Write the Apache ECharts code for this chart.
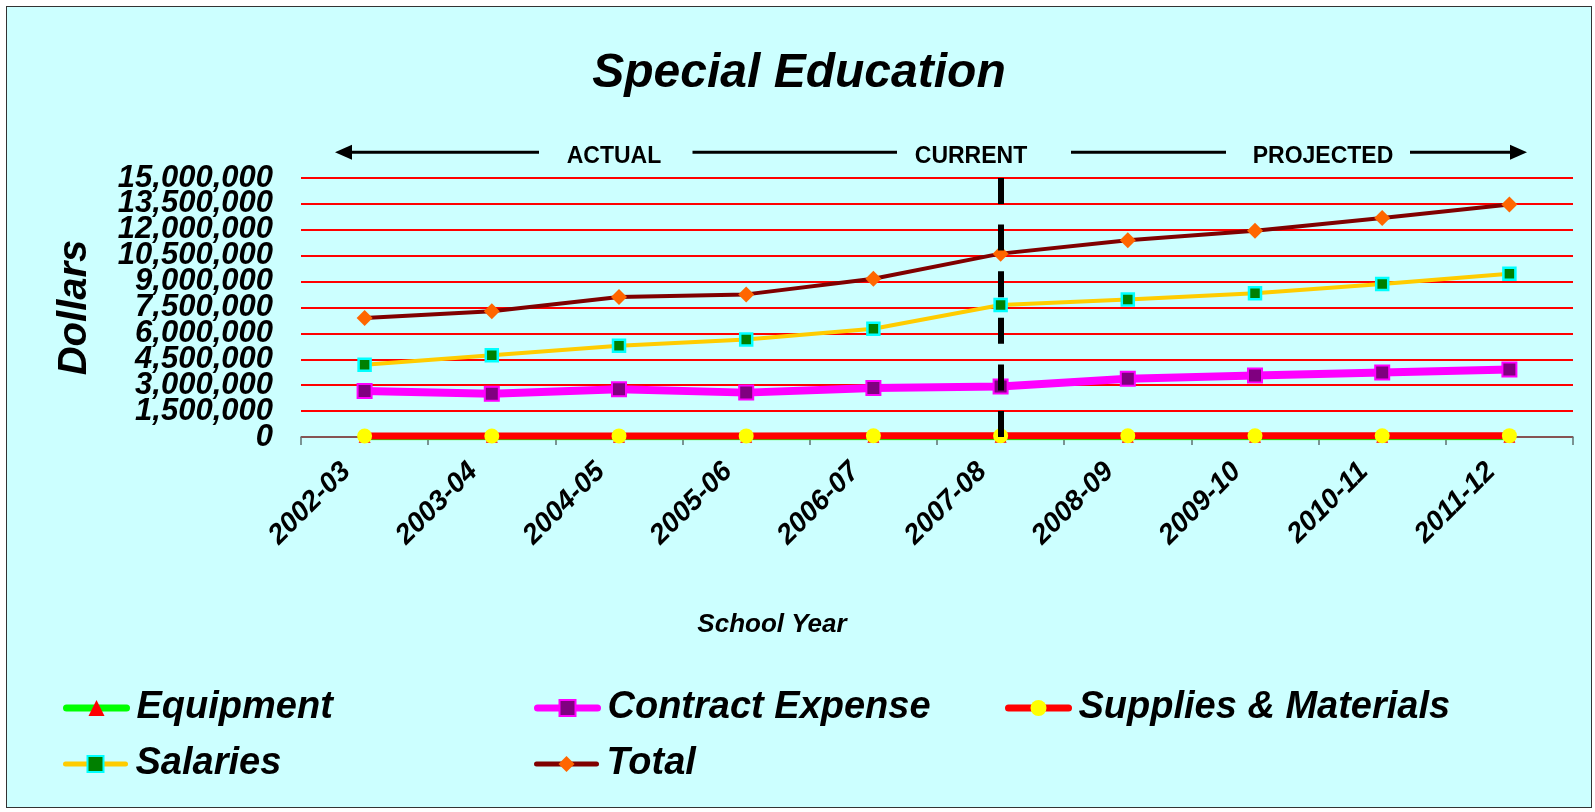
<!DOCTYPE html>
<html>
<head>
<meta charset="utf-8">
<title>Special Education</title>
<script src="https://cdn.jsdelivr.net/npm/echarts@6/dist/echarts.min.js"></script>
<style>
  html, body { margin: 0; padding: 0; background: #ffffff; }
  #chart {
    position: absolute; left: 6px; top: 6px;
    width: 1584px; height: 800px;
    border: 1px solid #333333;
  }
</style>
</head>
<body>
<div id="chart"></div>
<script>
// School years on the category axis
const categories = ['2002-03', '2003-04', '2004-05', '2005-06', '2006-07',
                    '2007-08', '2008-09', '2009-10', '2010-11', '2011-12'];

// Spending by category, in dollars
const equipment = [10000, 8000, 12000, 10000, 12000, 9000, 10000, 10000, 10000, 10000];
const contractExpense = [2660000, 2510000, 2760000, 2570000, 2840000, 2930000, 3380000, 3560000, 3740000, 3910000];
const suppliesMaterials = [60000, 60000, 65000, 65000, 70000, 70000, 72000, 74000, 76000, 78000];
const salaries = [4190000, 4730000, 5290000, 5640000, 6270000, 7640000, 7960000, 8320000, 8860000, 9460000];
const total = [6890000, 7280000, 8110000, 8260000, 9170000, 10620000, 11400000, 11940000, 12680000, 13470000];

// Value axis range and step
const yMin = 0;
const yMax = 15000000;
const yStep = 1500000;

// Year that separates actual from projected figures
const currentYear = '2007-08';

const FONT = "'Liberation Sans', Arial, Helvetica, sans-serif";
const boldItalic = { fontFamily: FONT, fontWeight: 'bold', fontStyle: 'italic', color: '#000000' };

// The tick labels are taller than the tick spacing, so they are split over two
// stacked value axes (even and odd steps) to keep every one of them visible.
const stepIndex = v => Math.round((v - yMin) / yStep);
const dollarLabel = (parity) => (v) =>
  (stepIndex(v) % 2 === parity) ? v.toLocaleString('en-US') : '';

function legendFor(name, left, top, lineWidth) {
  return {
    data: [name],
    left: left,
    top: top,
    padding: 0,
    itemWidth: 60,
    itemHeight: 20,
    selectedMode: false,
    lineStyle: { width: lineWidth, cap: 'round' },
    textStyle: Object.assign({ fontSize: 38, padding: [0, 0, 0, 5] }, boldItalic)
  };
}

// Timeline banner above the plot: arrows with ACTUAL / CURRENT / PROJECTED
const bannerY = 145.3;
const bannerLine = (x1, x2) => ({
  type: 'line',
  shape: { x1: x1, y1: bannerY, x2: x2, y2: bannerY },
  style: { stroke: '#000000', lineWidth: 3 }
});
const bannerText = (x, text) => ({
  type: 'text',
  x: x, y: bannerY + 4,
  style: {
    text: text, fontFamily: FONT, fontWeight: 'bold', fontSize: 23,
    fill: '#000000', align: 'center', verticalAlign: 'middle'
  }
});

const yLabelBase = Object.assign({ margin: 28, fontSize: 31 }, boldItalic);

const chart = echarts.init(document.getElementById('chart'), null, { renderer: 'canvas' });

chart.setOption({
  backgroundColor: '#CCFFFF',
  animation: false,
  title: {
    text: 'Special Education',
    left: 'center',
    top: 38,
    padding: 5,
    textStyle: Object.assign({ fontSize: 48 }, boldItalic)
  },
  grid: { left: 294, top: 171, width: 1272, height: 259, containLabel: false },
  xAxis: {
    type: 'category',
    data: categories,
    boundaryGap: true,
    axisLine: { show: true, lineStyle: { color: '#5f7070', width: 1.5 } },
    axisTick: { show: true, alignWithLabel: false, interval: 0, length: 8, lineStyle: { color: '#5f7070', width: 1.5 } },
    axisLabel: Object.assign({ rotate: 45, margin: 12, fontSize: 28, interval: 0, padding: [0, 26, 0, 0] }, boldItalic),
    splitLine: { show: false }
  },
  yAxis: [
    {
      type: 'value',
      min: yMin,
      max: yMax,
      interval: yStep,
      name: 'Dollars',
      nameLocation: 'middle',
      nameRotate: 90,
      nameGap: 206,
      nameTextStyle: Object.assign({ fontSize: 40 }, boldItalic),
      axisLine: { show: false },
      axisTick: { show: false },
      axisLabel: Object.assign({
        showMinLabel: true, showMaxLabel: true,
        formatter: dollarLabel(0)
      }, yLabelBase),
      splitLine: { show: true, lineStyle: { color: '#FF0000', width: 2 } }
    },
    {
      type: 'value',
      position: 'left',
      offset: 0,
      min: yMin,
      max: yMax,
      interval: yStep,
      axisLine: { show: false },
      axisTick: { show: false },
      axisLabel: Object.assign({
        showMinLabel: false, showMaxLabel: false,
        formatter: dollarLabel(1)
      }, yLabelBase),
      splitLine: { show: false }
    }
  ],
  legend: [
    legendFor('Equipment', 56, 682, 7),
    legendFor('Contract Expense', 527, 682, 7),
    legendFor('Supplies & Materials', 998, 682, 7),
    legendFor('Salaries', 56, 738, 5),
    legendFor('Total', 527, 738, 5)
  ],
  graphic: [
    { type: 'polygon', shape: { points: [[328, bannerY], [345, bannerY - 7.5], [345, bannerY + 7.5]] }, style: { fill: '#000000' } },
    bannerLine(344, 532),
    bannerText(607, 'ACTUAL'),
    bannerLine(685.5, 890),
    bannerText(964, 'CURRENT'),
    bannerLine(1064, 1219),
    bannerText(1316, 'PROJECTED'),
    bannerLine(1403, 1505),
    { type: 'polygon', shape: { points: [[1520, bannerY], [1503, bannerY - 7.5], [1503, bannerY + 7.5]] }, style: { fill: '#000000' } },
    {
      type: 'text', x: 765, y: 618,
      style: {
        text: 'School Year', fontSize: 26, fill: '#000000',
        fontFamily: FONT, fontWeight: 'bold', fontStyle: 'italic',
        align: 'center', verticalAlign: 'middle'
      }
    }
  ],
  series: [
    {
      name: 'Equipment', type: 'line', data: equipment,
      symbol: 'triangle', symbolSize: 12,
      itemStyle: { color: '#FF0000' },
      lineStyle: { color: '#00FF00', width: 7 }
    },
    {
      name: 'Contract Expense', type: 'line', data: contractExpense,
      symbol: 'rect', symbolSize: 14,
      itemStyle: { color: '#800080', borderColor: '#FF00FF', borderWidth: 2 },
      lineStyle: { color: '#FF00FF', width: 8 }
    },
    {
      name: 'Supplies & Materials', type: 'line', data: suppliesMaterials,
      symbol: 'circle', symbolSize: 15,
      itemStyle: { color: '#FFFF00', borderWidth: 0 },
      lineStyle: { color: '#FF0000', width: 7 }
    },
    {
      name: 'Salaries', type: 'line', data: salaries,
      symbol: 'rect', symbolSize: 12,
      itemStyle: { color: '#008000', borderColor: '#00FFFF', borderWidth: 2.5 },
      lineStyle: { color: '#FFCC00', width: 4 }
    },
    {
      name: 'Total', type: 'line', data: total,
      symbol: 'diamond', symbolSize: 16,
      itemStyle: { color: '#FF6600' },
      lineStyle: { color: '#800000', width: 4 },
      markLine: {
        silent: true,
        symbol: 'none',
        label: { show: false },
        lineStyle: { color: '#000000', width: 6, type: [26, 20.6] },
        data: [{ xAxis: currentYear }]
      }
    }
  ]
});
</script>
</body>
</html>
